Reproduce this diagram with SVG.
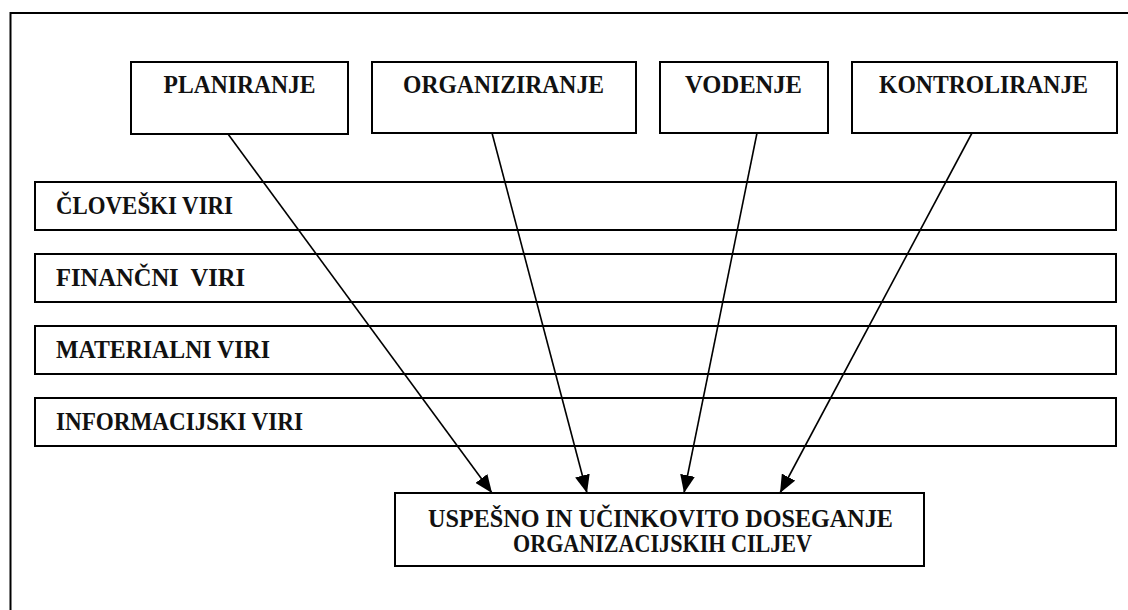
<svg xmlns="http://www.w3.org/2000/svg" width="1128" height="610" viewBox="0 0 1128 610">
  <defs>
    <marker id="arrow" markerUnits="userSpaceOnUse" markerWidth="18" markerHeight="15" refX="18" refY="7.5" orient="auto">
      <path d="M0,0 L18,7.5 L0,15 Z" fill="#000"/>
    </marker>
    <style>
      .box { fill: #fff; stroke: #000; stroke-width: 2; }
      .band { fill: none; stroke: #000; stroke-width: 2; }
      .lbl { font-family: "Liberation Serif", "Times New Roman", serif; font-weight: bold; font-size: 25px; fill: #111; }
      .mid { text-anchor: middle; }
      .conn line { stroke: #000; stroke-width: 1.6; marker-end: url(#arrow); }
    </style>
  </defs>

  <rect width="1128" height="610" fill="#fff"/>

  <!-- outer frame (runs past the right and bottom edges) -->
  <rect x="10.5" y="13" width="1140" height="620" fill="none" stroke="#000" stroke-width="2"/>

  <!-- management functions -->
  <g id="planiranje">
    <rect class="box" x="131" y="62" width="217" height="72"/>
    <text class="lbl mid" x="239.5" y="93" textLength="152" lengthAdjust="spacingAndGlyphs">PLANIRANJE</text>
  </g>
  <g id="organiziranje">
    <rect class="box" x="372" y="62" width="264" height="71"/>
    <text class="lbl mid" x="503.5" y="93" textLength="201" lengthAdjust="spacingAndGlyphs">ORGANIZIRANJE</text>
  </g>
  <g id="vodenje">
    <rect class="box" x="660" y="62" width="168" height="71"/>
    <text class="lbl mid" x="743.5" y="93" textLength="117" lengthAdjust="spacingAndGlyphs">VODENJE</text>
  </g>
  <g id="kontroliranje">
    <rect class="box" x="852" y="62" width="265" height="71"/>
    <text class="lbl mid" x="983.5" y="93" textLength="209" lengthAdjust="spacingAndGlyphs">KONTROLIRANJE</text>
  </g>

  <!-- resources -->
  <g id="cloveski-viri">
    <rect class="band" x="35" y="182" width="1081" height="48"/>
    <text class="lbl" x="56" y="214" textLength="177" lengthAdjust="spacingAndGlyphs">ČLOVEŠKI VIRI</text>
  </g>
  <g id="financni-viri">
    <rect class="band" x="35" y="254" width="1081" height="48"/>
    <text class="lbl" x="56" y="286" xml:space="preserve" style="white-space:pre" textLength="189" lengthAdjust="spacingAndGlyphs">FINANČNI  VIRI</text>
  </g>
  <g id="materialni-viri">
    <rect class="band" x="35" y="326" width="1081" height="48"/>
    <text class="lbl" x="56" y="358" textLength="214" lengthAdjust="spacingAndGlyphs">MATERIALNI VIRI</text>
  </g>
  <g id="informacijski-viri">
    <rect class="band" x="35" y="398" width="1081" height="48"/>
    <text class="lbl" x="56" y="430" textLength="247" lengthAdjust="spacingAndGlyphs">INFORMACIJSKI VIRI</text>
  </g>

  <!-- goal -->
  <g id="cilj">
    <rect class="box" x="395" y="493" width="529" height="73"/>
    <text class="lbl mid" x="660.5" y="527" textLength="465" lengthAdjust="spacingAndGlyphs">USPEŠNO IN UČINKOVITO DOSEGANJE</text>
    <text class="lbl mid" x="662.5" y="552" textLength="299" lengthAdjust="spacingAndGlyphs">ORGANIZACIJSKIH CILJEV</text>
  </g>

  <!-- connectors -->
  <g id="connectors" class="conn">
    <line x1="228" y1="134" x2="492" y2="493"/>
    <line x1="492" y1="133" x2="587" y2="493"/>
    <line x1="757" y1="133" x2="684" y2="493"/>
    <line x1="972" y1="133" x2="780" y2="493"/>
  </g>
</svg>
